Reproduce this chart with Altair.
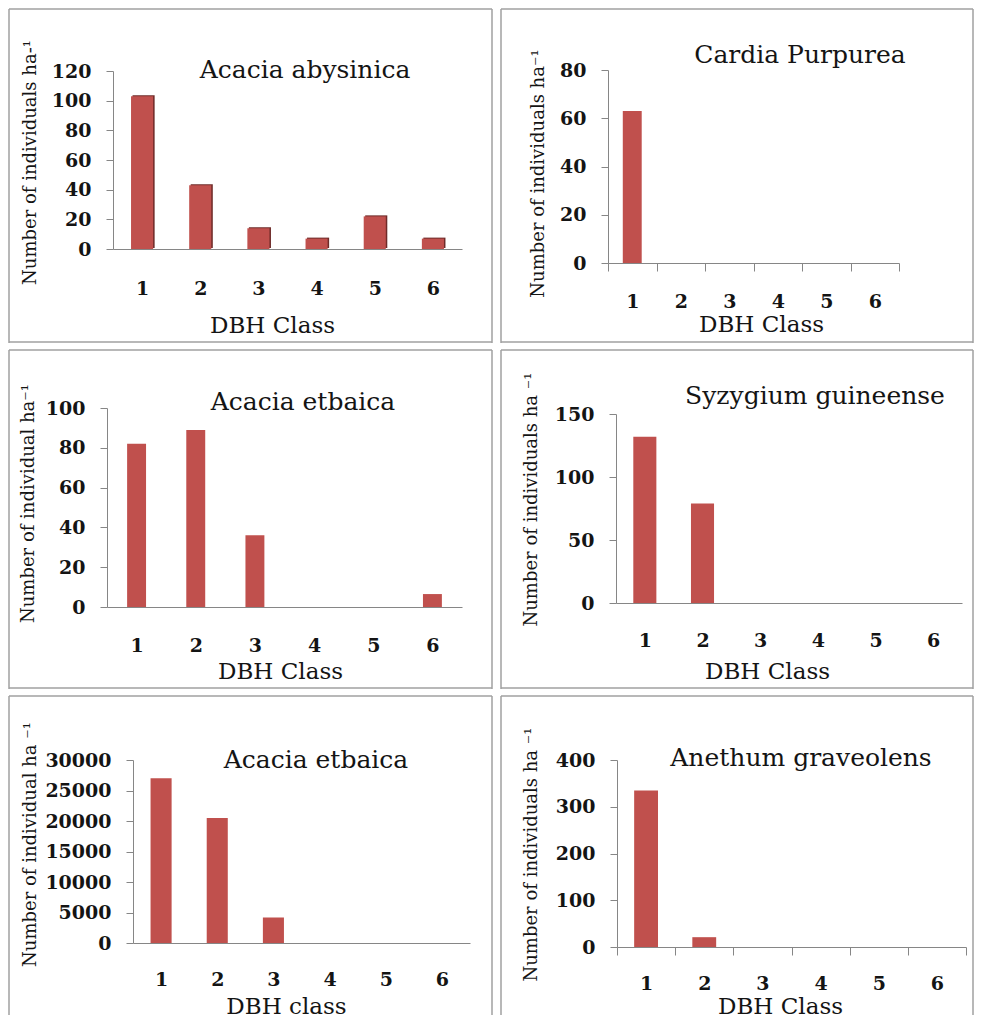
import altair as alt
import pandas as pd

FONT = "DejaVu Serif"
RED = "#C0504D"
SHADOW = "#6E2B29"
GRAY = "#868686"
BORDER = "#A0A0A0"
TXT = "#141414"

# ---------------- data ----------------
classes = ["1", "2", "3", "4", "5", "6"]

acacia_abysinica = [103, 43, 14, 7, 22, 7]
cardia_purpurea = [63, 0, 0, 0, 0, 0]
acacia_etbaica_1 = [82, 89, 36, 0, 0, 6.5]
syzygium_guineense = [132, 79, 0, 0, 0, 0]
acacia_etbaica_2 = [27000, 20500, 4200, 0, 0, 0]
anethum_graveolens = [335, 21, 0, 0, 0, 0]

series = [acacia_abysinica, cardia_purpurea, acacia_etbaica_1,
          syzygium_guineense, acacia_etbaica_2, anethum_graveolens]

titles = ["Acacia abysinica", "Cardia Purpurea", "Acacia etbaica",
          "Syzygium guineense", "Acacia etbaica", "Anethum graveolens"]
y_titles = ["Number of individuals ha-\u00b9",
            "Number of individuals ha\u207b\u00b9",
            "Number of individual ha\u207b\u00b9",
            "Number of individuals ha \u207b\u00b9",
            "Number of individual  ha \u207b\u00b9",
            "Number of individuals ha \u207b\u00b9"]
x_titles = ["DBH Class", "DBH Class", "DBH Class", "DBH Class", "DBH class", "DBH Class"]
y_max = [120, 80, 100, 150, 30000, 400]
y_step = [20, 20, 20, 50, 5000, 100]

# ---------------- layout (pixels inside each framed panel) ----------------
# w,h: panel box; ax: y-axis x; xr: x-axis right end; zy/ty: y of zero / top tick
geom = [
    dict(w=485, h=335, ax=105, xr=454, zy=241, ty=63, tx=297, tb=70, lp=39,
         ytx=-83, yty=154, xtx=264, xty=83, bw=0.38, xt=False, shadow=True, bottom=True),
    dict(w=474, h=335, ax=108, xr=399, zy=255, ty=62, tx=300, tb=55, lp=30,
         ytx=-70, yty=165, xtx=261, xty=68, bw=0.39, xt=True, shadow=False, bottom=True),
    dict(w=485, h=340, ax=99, xr=454, zy=258, ty=59, tx=295, tb=61, lp=38,
         ytx=-79, yty=154, xtx=272, xty=71, bw=0.32, xt=False, shadow=False, bottom=True),
    dict(w=474, h=340, ax=116, xr=462, zy=254, ty=65, tx=315, tb=55, lp=37,
         ytx=-85, yty=150, xtx=267, xty=75, bw=0.40, xt=False, shadow=False, bottom=True),
    dict(w=485, h=320, ax=125, xr=462, zy=248, ty=65, tx=308, tb=73, lp=36,
         ytx=-103, yty=149, xtx=278, xty=70, bw=0.375, xt=False, shadow=False, bottom=False),
    dict(w=474, h=320, ax=117, xr=466, zy=252, ty=65, tx=301, tb=71, lp=28,
         ytx=-86, yty=159, xtx=280, xty=66, bw=0.41, xt=True, shadow=False, bottom=False),
]

dummy = pd.DataFrame({"k": [0]})


def panel(values, title, ytitle, xtitle, ymax, ystep, g):
    df = pd.DataFrame({"cls": classes, "n": values})
    w, h = g["w"], g["h"]
    x_axis = alt.Axis(
        title=xtitle, titleFont=FONT, titleFontSize=23, titleFontWeight="normal",
        titleColor=TXT, titleX=g["xtx"], titleY=g["xty"], titleAlign="center",
        titleBaseline="alphabetic", labelAngle=0, labelFont=FONT, labelFontSize=19,
        labelFontWeight="bold", labelColor=TXT, labelBaseline="middle",
        labelPadding=g["lp"], ticks=g["xt"], tickBand="extent",
        tickSize=(8 if g["xt"] else 0), tickColor=GRAY, domainColor=GRAY, grid=False,
        offset=-(h - g["zy"]),
    )
    y_axis = alt.Axis(
        title=ytitle, values=list(range(0, ymax + 1, ystep)), format="d", titleFont=FONT,
        titleFontSize=18, titleFontWeight="normal", titleColor=TXT, titleAngle=270,
        titleAlign="center", titleBaseline="middle", titleX=g["ytx"], titleY=g["yty"],
        labelFont=FONT, labelFontSize=19, labelFontWeight="bold", labelColor=TXT,
        labelBaseline="middle", labelPadding=15, tickSize=7, tickColor=GRAY,
        domainColor=GRAY, grid=False, offset=-g["ax"],
    )
    x = alt.X("cls:N", sort=classes,
              scale=alt.Scale(range=[g["ax"], g["xr"]], paddingInner=0, paddingOuter=0),
              axis=x_axis)
    y = alt.Y("n:Q", scale=alt.Scale(domain=[0, ymax], range=[g["zy"], g["ty"]], nice=False, zero=True),
              axis=y_axis)

    layers = []
    if g["shadow"]:
        layers.append(alt.Chart(df).mark_bar(color=SHADOW, width=alt.RelativeBandSize(g["bw"]),
                                             xOffset=1.5, yOffset=-1).encode(x=x, y=y))
    layers.append(alt.Chart(df).mark_bar(color=RED, width=alt.RelativeBandSize(g["bw"])).encode(x=x, y=y))

    layers.append(alt.Chart(dummy).mark_text(font=FONT, fontSize=25, align="center",
                                             baseline="alphabetic", color=TXT).encode(
        x=alt.value(g["tx"]), y=alt.value(g["tb"]), text=alt.value(title)))

    # panel frame
    rule = alt.Chart(dummy).mark_rule(color=BORDER, strokeWidth=1.5)
    l, r, t, b = 1, w - 1, 1, h - 1
    layers.append(rule.encode(x=alt.value(l), x2=alt.value(r), y=alt.value(t), y2=alt.value(t)))
    layers.append(rule.encode(x=alt.value(l), x2=alt.value(l), y=alt.value(t), y2=alt.value(h)))
    layers.append(rule.encode(x=alt.value(r), x2=alt.value(r), y=alt.value(t), y2=alt.value(h)))
    if g["bottom"]:
        layers.append(rule.encode(x=alt.value(l), x2=alt.value(r), y=alt.value(b), y2=alt.value(b)))

    return alt.layer(*layers).properties(width=w, height=h)


panels = [panel(series[i], titles[i], y_titles[i], x_titles[i], y_max[i], y_step[i], geom[i])
          for i in range(6)]

rows = [alt.hconcat(panels[2 * r], panels[2 * r + 1], spacing=7) for r in range(3)]
chart = alt.vconcat(*rows, spacing=5).properties(padding=0).configure_view(strokeWidth=0)

chart.save("out.html", embed_options={"renderer": "svg", "actions": False})
